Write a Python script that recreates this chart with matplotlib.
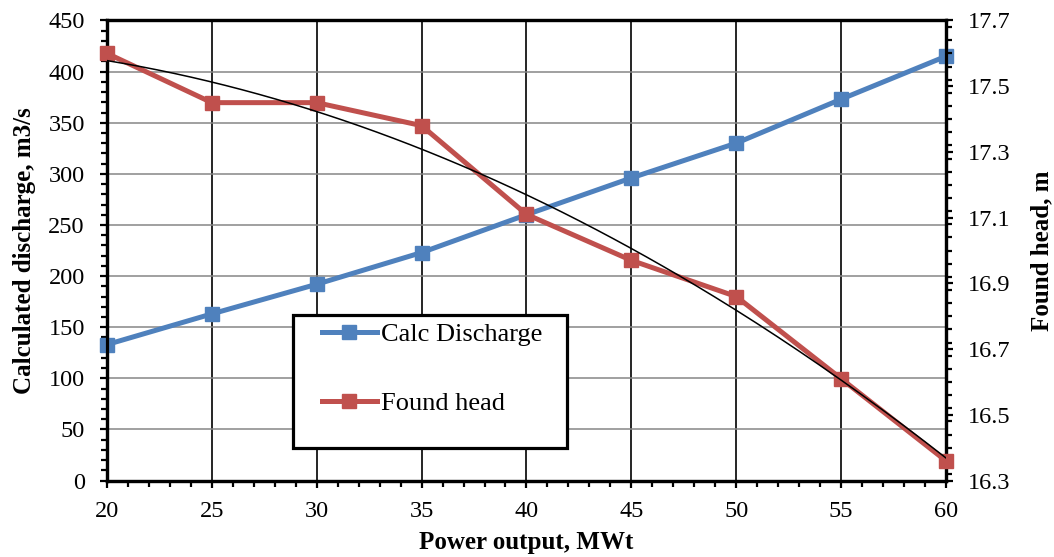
import numpy as np
import matplotlib
matplotlib.use("Agg")
import matplotlib.pyplot as plt
from matplotlib.patches import Rectangle
from matplotlib.lines import Line2D
from matplotlib.ticker import MultipleLocator, FormatStrFormatter

plt.rcParams['font.family'] = ['Liberation Serif', 'DejaVu Serif']

# data
power = [20, 25, 30, 35, 40, 45, 50, 55, 60]                 # MWt
discharge = [133, 163, 192, 223, 260, 296, 330, 373, 415]     # m3/s
head = [17.60, 17.45, 17.45, 17.38, 17.11, 16.97, 16.86, 16.61, 16.36]  # m

blue = '#4F81BD'
red = '#C0504D'

fig = plt.figure(figsize=(10.54, 5.57), dpi=100)
ax = fig.add_axes([0.1015, 0.1373, 0.7960, 0.8259])
ax2 = ax.twinx()

# grid: grey horizontal, black vertical
ax.set_axisbelow(True)
ax.grid(axis='y', color='#868686', lw=1.1)
ax.grid(axis='x', color='black', lw=1.2)

ax.plot(power, discharge, color=blue, lw=3.6, marker='s', ms=9.5, zorder=3, clip_on=False)
ax2.plot(power, head, color=red, lw=3.6, marker='s', ms=9.5, zorder=3, clip_on=False)

# polynomial trend line (2nd order) of found head
coef = np.polyfit(power, head, 2)
xs = np.linspace(power[0], power[-1], 200)
ax2.plot(xs, np.polyval(coef, xs), color='black', lw=1.1, zorder=4)

ax.set_xlim(20, 60)
ax.set_ylim(0, 450)
ax2.set_ylim(16.3, 17.7)

ax.xaxis.set_major_locator(MultipleLocator(5))
ax.xaxis.set_minor_locator(MultipleLocator(1))
ax.yaxis.set_major_locator(MultipleLocator(50))
ax.yaxis.set_minor_locator(MultipleLocator(10))
ax2.set_yticks(np.arange(16.3, 17.71, 0.2))
ax2.yaxis.set_minor_locator(MultipleLocator(0.04))
ax2.yaxis.set_major_formatter(FormatStrFormatter('%.1f'))

for a in (ax, ax2):
    for s in a.spines.values():
        s.set_linewidth(2.3)
        s.set_color('black')
ax.tick_params(axis='both', which='major', direction='out', length=5, width=1.6, labelsize=17.5)
ax.tick_params(axis='both', which='minor', direction='out', length=4, width=1.6)
ax.tick_params(axis='y', which='major', pad=11)
ax.tick_params(axis='x', which='major', pad=9.5)
ax2.tick_params(axis='y', which='major', direction='out', length=5, width=1.6, labelsize=17.5, pad=11)
ax2.tick_params(axis='y', which='minor', direction='out', length=4, width=1.6)

ax.set_xlabel('Power output, MWt', fontsize=18, fontweight='bold', labelpad=7)
ax.set_ylabel('Calculated discharge, m3/s', fontsize=18, fontweight='bold', labelpad=9)
ax2.set_ylabel('Found head, m', fontsize=18, fontweight='bold', labelpad=14)

# legend box
box = Rectangle((293 / 1054, 1 - 448 / 557), 274 / 1054, 133 / 557,
                transform=fig.transFigure, facecolor='white', edgecolor='black',
                lw=2.3, zorder=10)
fig.patches.append(box)
handles = [Line2D([], [], color=blue, lw=3.6, marker='s', ms=9.5),
           Line2D([], [], color=red, lw=3.6, marker='s', ms=9.5)]
leg = fig.legend(handles, ['Calc Discharge', 'Found head'], loc='upper left',
                 bbox_to_anchor=(322 / 1054, 1 - 323 / 557), frameon=False,
                 fontsize=19, borderpad=0, borderaxespad=0, handlelength=2.08,
                 handletextpad=0.14, labelspacing=1.72)
leg.set_zorder(11)

fig.savefig('out.png', dpi=100)
